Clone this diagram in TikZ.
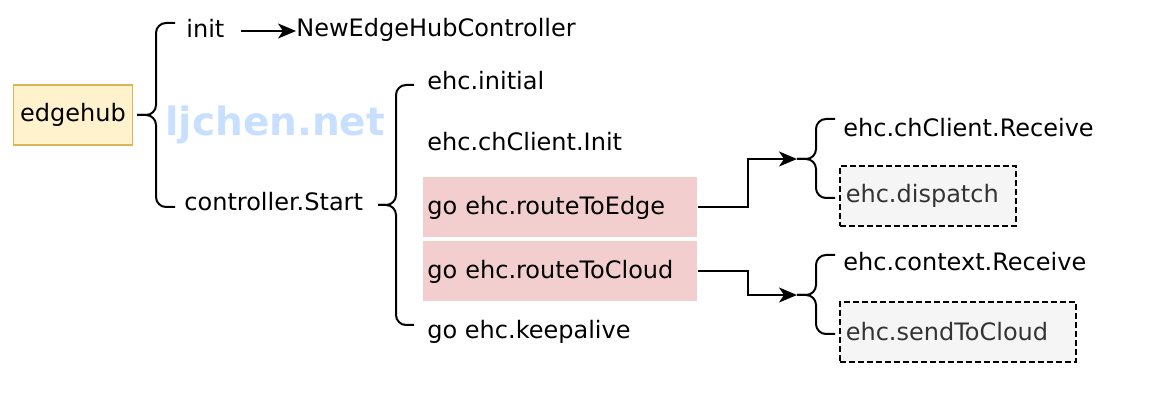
\documentclass[tikz,border=0pt]{standalone}
\usepackage{fontspec}
\setmainfont{DejaVu Sans}
\usetikzlibrary{arrows.meta, positioning, calc}
\definecolor{hubFill}{HTML}{FFF2CC}
\definecolor{hubDraw}{HTML}{D6B656}
\definecolor{goFill}{HTML}{F2CECE}
\definecolor{sinkFill}{HTML}{F5F5F5}
\definecolor{sinkText}{HTML}{333333}
\definecolor{markBlue}{HTML}{C9DFFF}
\newcommand{\curly}[3]{% tip, top end, bottom end
  \draw[bracket] (#2) -| ($(#1)!0.5!(#1 -| #2)$) -- (#1);
  \draw[bracket] (#3) -| ($(#1)!0.5!(#1 -| #3)$) -- (#1);
}
\tikzset{
  txt/.style={anchor=west, inner sep=0pt, text height=9pt, text depth=2.5pt,
              font=\fontsize{12}{14}\selectfont},
  hub/.style={draw=hubDraw, line width=0.8pt, fill=hubFill,
              minimum width=58pt, minimum height=30pt, font=\fontsize{12}{14}\selectfont},
  gobox/.style={fill=goFill, anchor=north west, minimum height=30pt, inner xsep=2pt,
                text width=133pt, align=left, font=\fontsize{12}{14}\selectfont},
  sink/.style={draw, dash pattern=on 3pt off 1.5pt, line width=0.8pt, fill=sinkFill,
               text=sinkText, anchor=north west, minimum height=30pt, inner xsep=3pt,
               align=left, font=\fontsize{12}{14}\selectfont},
  bracket/.style={line width=1pt, rounded corners=5pt},
  arrow/.style={-{Stealth[length=9pt,width=7.5pt,inset=2.5pt]}, line width=1pt},
}

\begin{document}
\begin{tikzpicture}[x=0.5pt, y=-0.5pt]
\useasboundingbox (0,0) rectangle (1150,400);

% left side
\node[hub] (hub) at (73,115) {edgehub};
\node[txt] (init) at (186,31) {init};
\node[txt] (neh) at (296,30) {NewEdgeHubController};
\node[txt] (ctrl) at (184,204) {controller.Start};
\node[anchor=west, inner sep=0pt, text=markBlue, font=\fontsize{19.5}{22}\selectfont\bfseries]
  (mark) at (165,125) {ljchen.net};

% controller.Start steps
\node[txt] (initial) at (427,83) {ehc.initial};
\node[txt] (chinit) at (427,144) {ehc.chClient.Init};
\node[gobox] (rte) at (423,177) {go ehc.routeToEdge};
\node[gobox] (rtc) at (423,241) {go ehc.routeToCloud};
\node[txt] (keep) at (427,332) {go ehc.keepalive};

% right side
\node[txt] (chrecv) at (843,130) {ehc.chClient.Receive};
\node[sink, text width=82pt] (disp) at (839,165) {ehc.dispatch};
\node[txt] (ctxrecv) at (843,264) {ehc.context.Receive};
\node[sink, text width=112pt] (s2c) at (839,301) {ehc.sendToCloud};

% brace ends
\coordinate (b1tip) at (137,115);
\coordinate (b1top) at (175,23);
\coordinate (b1bot) at (175,207);
\coordinate (b2tip) at (378,205);
\coordinate (b2top) at (414,85);
\coordinate (b2bot) at (414,325);
\coordinate (b3tip) at (797,159);
\coordinate (b3top) at (835,119);
\coordinate (b3bot) at (835,198);
\coordinate (b4tip) at (797,295);
\coordinate (b4top) at (835,255);
\coordinate (b4bot) at (835,334);

\curly{b1tip}{b1top}{b1bot}
\curly{b2tip}{b2top}{b2bot}
\curly{b3tip}{b3top}{b3bot}
\curly{b4tip}{b4top}{b4bot}

% arrows
\coordinate (initout) at (241,31);
\draw[arrow] (initout) -- (initout -| neh.west);
\draw[arrow] (rte.east) -- ++(50,0) |- (b3tip);
\draw[arrow] (rtc.east) -- ++(50,0) |- (b4tip);

\end{tikzpicture}
\end{document}
